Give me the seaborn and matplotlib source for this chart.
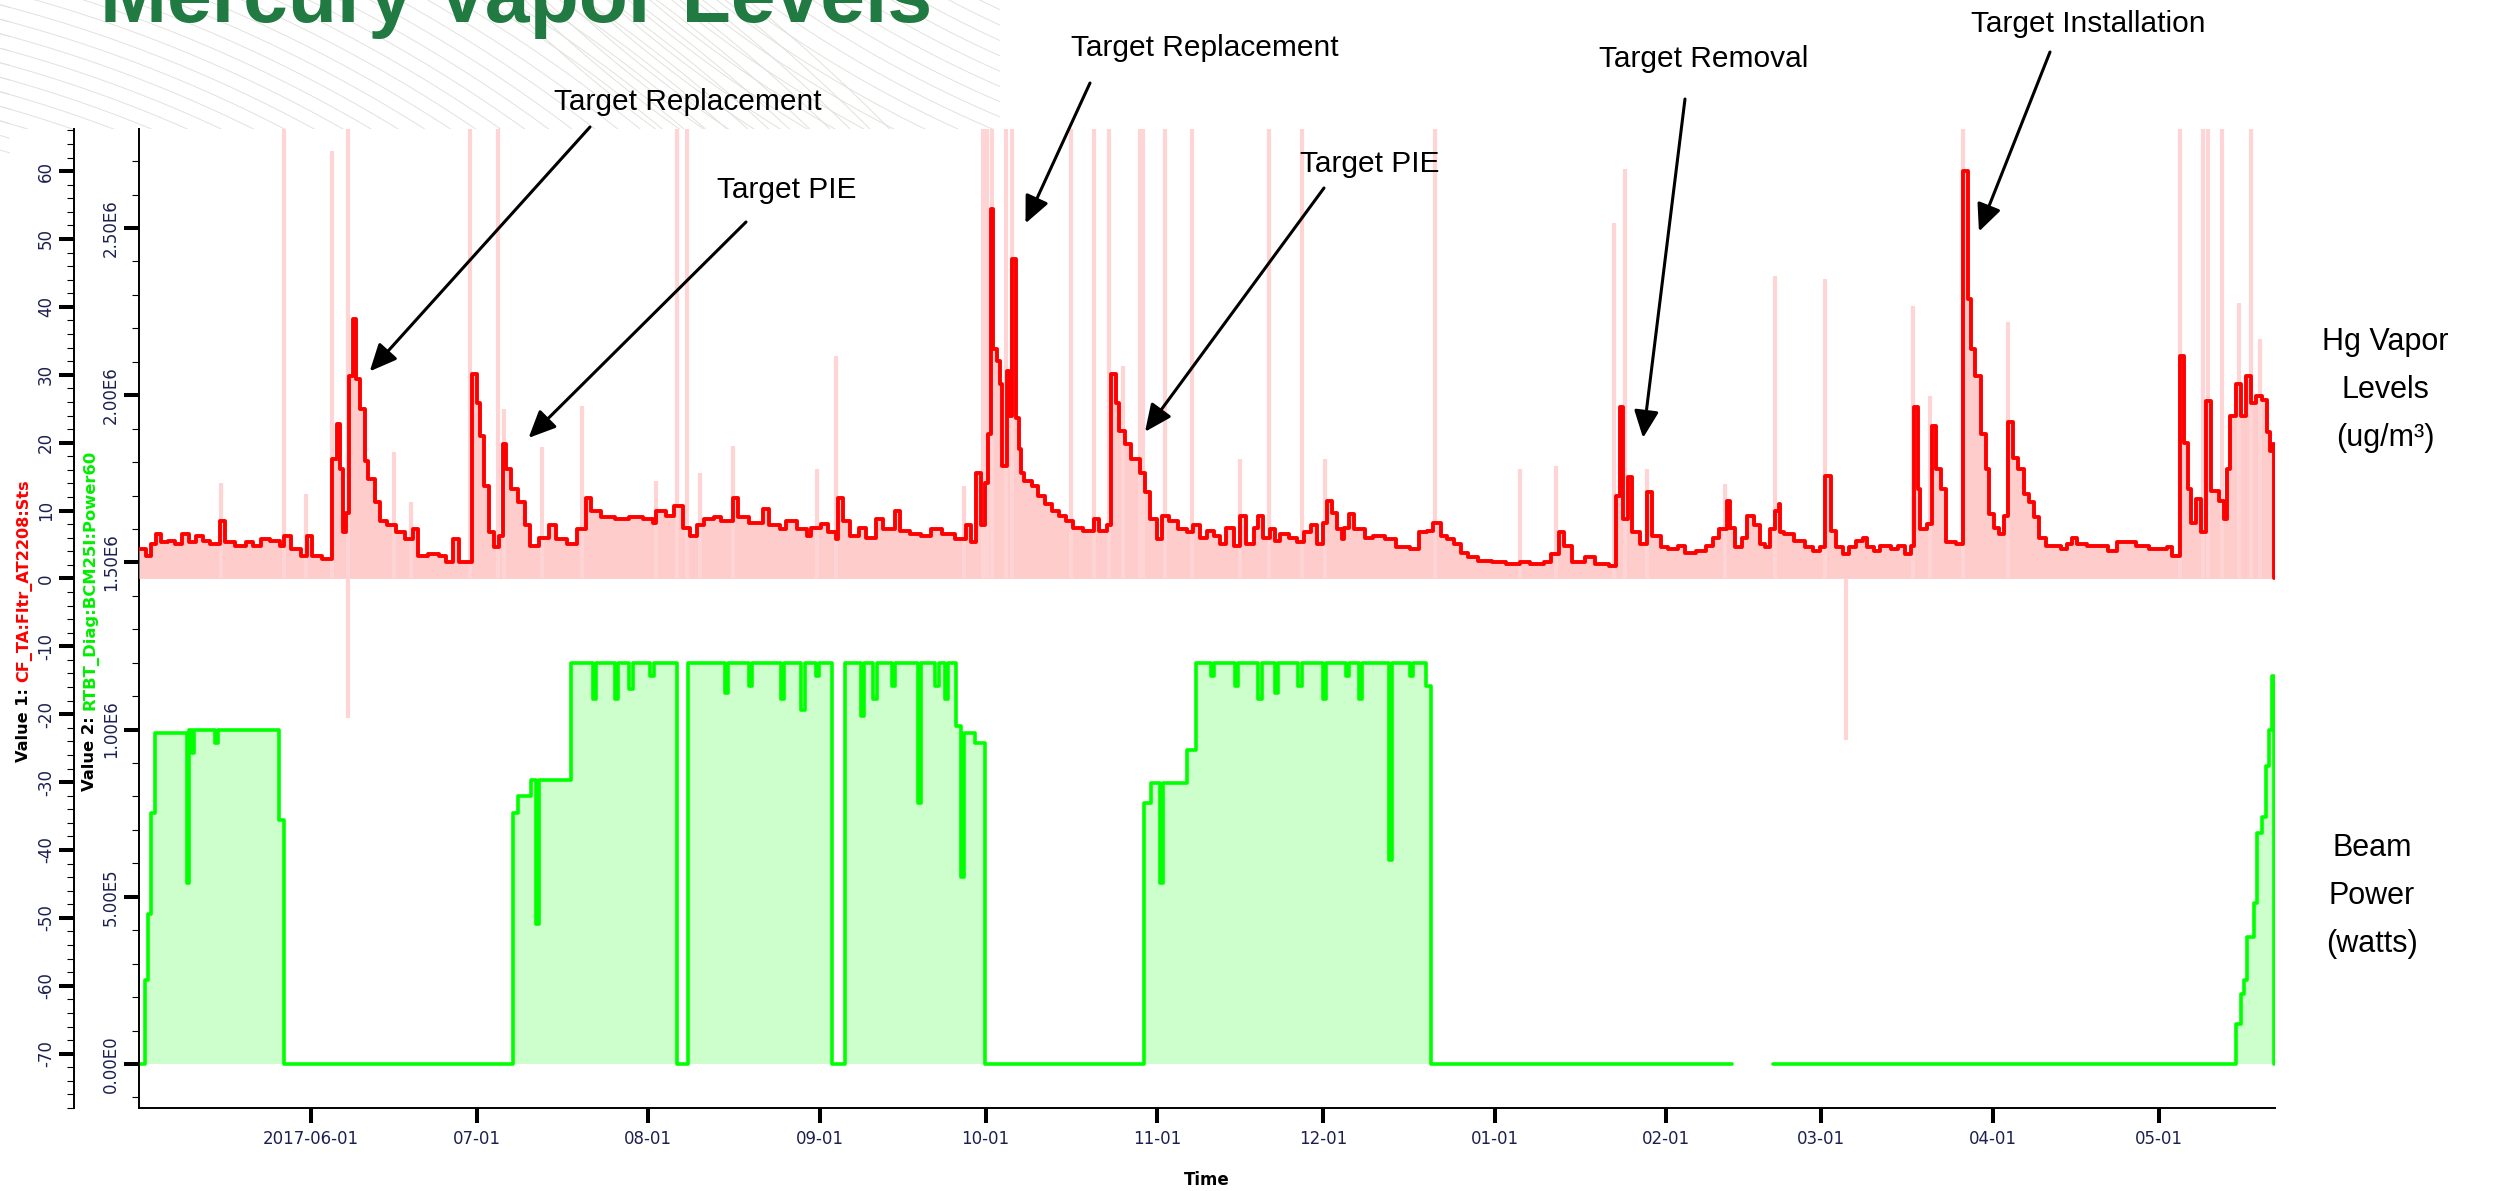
import numpy as np
import pandas as pd
import matplotlib
matplotlib.use("Agg")
from matplotlib import pyplot as plt
import matplotlib.dates as mdates
from matplotlib.ticker import MultipleLocator, FuncFormatter, FixedLocator
from matplotlib.patches import Rectangle
import seaborn as sns

# --- data (days after 2017-05-01) ---
start_date = "2017-05-01"
end_day = 386.0

# Hg vapor (Value 1, outer axis), step values
red_day = [0, 1.2, 2.2, 3.1, 4.0, 5.3, 6.5, 7.8, 9.0, 10.3, 11.5, 12.8, 14.6, 15.6, 17.4, 19.3, 20.6,
           22.1, 23.7, 25.5, 26.2, 27.4, 29.3, 30.4, 31.2, 33.0, 34.9, 35.8, 36.4, 36.8, 37.4, 38.0,
           38.6, 39.3, 39.9, 40.8, 41.4, 42.7, 43.6, 44.9, 46.4, 48.0, 49.5, 50.5, 52.3, 54.2, 55.5,
           56.8, 57.9, 60.1, 61.1, 61.7, 62.3, 63.2, 64.2, 65.1, 65.7, 66.4, 67.3, 68.5, 69.8, 70.7,
           72.3, 74.1, 75.4, 77.3, 79.1, 80.7, 81.6, 83.5, 86.0, 88.5, 91.0, 92.8, 93.5, 95.3, 96.6,
           98.3, 99.6, 100.8, 102.1, 103.9, 105.2, 107.4, 108.3, 110.2, 112.7, 113.9, 115.8, 117.0,
           118.9, 120.8, 121.4, 123.2, 124.5, 126.0, 126.4, 127.3, 128.5, 130.1, 131.3, 133.2, 134.5,
           136.6, 137.6, 139.4, 141.3, 143.2, 145.1, 147.5, 149.4, 150.3, 151.3, 152.2, 152.8, 153.5,
           154.0, 154.4, 155.0, 155.6, 156.0, 156.9, 157.2, 157.8, 158.4, 159.1, 159.4, 160.0, 161.3,
           162.5, 163.7, 165.0, 166.2, 167.5, 168.7, 170.6, 172.5, 173.4, 175.0, 175.6, 176.5, 177.1,
           178.1, 179.3, 180.9, 181.8, 182.7, 184.0, 184.9, 186.2, 187.7, 189.3, 190.5, 191.8, 193.0,
           194.3, 195.3, 196.5, 197.8, 199.0, 200.0, 201.5, 202.2, 203.1, 204.3, 205.3, 206.2, 207.8,
           209.3, 210.6, 211.8, 212.8, 214.0, 214.7, 215.5, 216.5, 217.4, 217.7, 218.7, 219.6, 221.5,
           223.0, 225.2, 227.1, 229.6, 231.4, 232.7, 233.9, 235.2, 236.4, 237.7, 238.9, 240.2, 242.0,
           244.5, 247.0, 249.5, 251.4, 253.9, 255.1, 256.7, 257.6, 258.9, 261.3, 263.2, 265.7, 266.9,
           267.6, 268.2, 269.1, 269.8, 271.3, 272.6, 273.5, 275.1, 276.3, 278.2, 279.4, 281.3, 283.2,
           284.4, 285.6, 286.9, 287.5, 288.4, 289.7, 290.6, 291.9, 292.9, 293.8, 294.8, 295.7, 296.3,
           296.6, 297.3, 299.1, 301.0, 302.6, 303.8, 304.7, 305.7, 306.6, 307.9, 309.1, 310.3, 311.6,
           312.2, 313.5, 314.7, 316.6, 317.8, 319.1, 320.3, 320.8, 321.4, 321.9, 323.1, 324.1, 324.8,
           325.6, 326.5, 328.4, 329.6, 330.6, 331.0, 331.8, 332.8, 333.7, 334.3, 335.3, 336.2, 337.1,
           337.8, 338.7, 339.6, 340.6, 341.5, 342.4, 343.4, 344.6, 347.4, 348.4, 349.3, 350.2, 352.1,
           355.8, 357.4, 360.8, 363.3, 366.4, 367.4, 368.9, 369.5, 370.2, 370.8, 371.7, 372.7, 373.6,
           374.5, 375.8, 376.7, 377.3, 377.9, 378.9, 379.8, 380.8, 381.7, 382.6, 383.6, 384.5, 385.1,
           385.7, 385.9]
red_val = [4.3, 3.3, 5.1, 6.5, 5.3, 5.5, 5.1, 6.5, 5.3, 6.3, 5.5, 5.1, 8.5, 5.3, 4.8, 5.3, 4.8,
           5.8, 5.5, 4.8, 6.3, 4.3, 3.3, 6.3, 3.3, 2.8, 17.6, 22.7, 16.1, 6.8, 9.7, 29.8,
           38.2, 29.4, 24.9, 17.3, 14.6, 11.2, 8.5, 7.8, 6.8, 5.8, 7.3, 3.3, 3.6, 3.3, 2.4,
           5.8, 2.4, 30.1, 25.9, 21.0, 13.6, 6.8, 4.6, 6.3, 19.8, 16.1, 13.2, 11.2, 7.8, 4.8,
           6.0, 7.8, 5.8, 5.1, 7.3, 11.9, 10.0, 9.0, 8.7, 9.0, 8.7, 8.2, 10.0, 9.2, 10.7,
           7.5, 6.3, 7.8, 8.7, 9.0, 8.5, 11.9, 9.0, 8.2, 10.2, 7.8, 7.3, 8.5,
           7.3, 6.3, 7.5, 8.0, 6.8, 5.8, 11.9, 8.5, 6.3, 7.5, 6.0, 8.7, 7.3,
           10.0, 7.0, 6.5, 6.3, 7.3, 6.5, 5.8, 7.8, 5.3, 15.6, 7.8, 14.1, 21.3,
           54.4, 33.8, 32.1, 28.6, 16.6, 30.6, 24.0, 47.0, 23.7, 19.0, 15.6, 14.4, 13.6,
           12.2, 10.9, 10.0, 9.2, 8.5, 7.5, 7.0, 8.7, 7.0, 7.8, 30.1, 25.9, 21.7,
           19.8, 17.6, 15.6, 12.7, 8.7, 5.8, 9.2, 8.5, 7.3, 6.8, 7.8, 6.0, 7.0,
           6.3, 5.1, 7.5, 4.8, 9.2, 5.1, 7.5, 9.2, 6.0, 7.3, 5.5, 6.5, 6.0,
           5.3, 6.8, 7.8, 5.1, 8.2, 11.4, 9.7, 7.3, 5.8, 7.5, 9.5, 7.3, 6.0,
           6.3, 5.8, 4.6, 4.3, 6.8, 7.0, 8.2, 6.3, 5.8, 5.1, 3.8, 3.1, 2.6,
           2.4, 2.1, 2.4, 2.1, 2.4, 3.6, 6.8, 4.8, 2.4, 3.1, 2.1, 1.9, 12.2,
           25.2, 8.7, 14.9, 6.8, 5.1, 12.7, 6.3, 4.6, 4.3, 4.8, 3.8, 4.1, 4.8,
           6.0, 7.3, 11.4, 7.5, 4.6, 6.0, 9.2, 7.8, 5.1, 4.6, 7.3, 10.0, 10.9,
           6.8, 6.5, 5.5, 4.6, 4.1, 4.6, 15.1, 7.0, 4.6, 3.6, 4.6, 5.5, 6.0,
           4.6, 4.1, 4.8, 4.3, 4.8, 3.6, 4.8, 25.2, 13.2, 7.3, 8.0, 22.5, 16.1,
           13.2, 5.3, 5.1, 60.0, 41.1, 33.8, 29.8, 21.3, 16.1, 9.5, 7.5, 6.5, 9.2,
           23.0, 17.8, 16.1, 12.4, 11.2, 9.0, 6.0, 4.8, 4.3, 5.1, 6.0, 5.1, 4.8,
           4.1, 5.3, 4.8, 4.3, 4.6, 3.3, 32.8, 20.0, 13.2, 8.2, 11.7, 6.8, 26.2,
           12.9, 11.4, 8.7, 16.1, 24.0, 28.6, 24.0, 29.8, 25.9, 26.8, 26.3, 21.5, 18.8,
           19.8, 0.0]

# short max-value excursions of the Hg reading (pale spikes); 70 = off scale
spike_day = [14.8, 26.2, 30.2, 34.9, 37.8, 46.1, 49.2, 59.8, 64.8, 66.0, 72.9, 80.1, 93.5, 97.2,
             99.1, 101.4, 107.4, 122.6, 126.0, 149.1, 152.5, 153.2, 154.1, 156.6, 157.8, 168.4,
             172.5, 175.3, 177.8, 180.9, 181.5, 185.5, 190.2, 199.0, 204.2, 210.1, 214.3, 234.2,
             249.5, 256.0, 266.6, 268.5, 272.6, 286.6, 295.7, 304.6, 320.6, 323.7, 329.7, 337.8,
             368.8, 373.0, 373.9, 376.4, 379.5, 381.7, 383.2]
spike_top = [14.1, 70, 12.4, 63.0, 70, 18.6, 11.2, 70, 70, 24.9, 19.3, 25.4, 14.4, 70,
             70, 15.6, 19.5, 16.1, 32.8, 13.6, 70, 70, 70, 70, 70, 70,
             70, 70, 31.3, 70, 70, 70, 70, 17.6, 70, 70, 17.6, 70,
             16.1, 16.6, 52.4, 60.3, 16.1, 13.9, 44.6, 44.1, 40.2, 26.9, 70, 37.7,
             70, 70, 70, 70, 40.6, 70, 35.2]
dip_day = [37.8, 308.5]
dip_low = [-20.5, -23.8]

# beam power (Value 2, inner axis) in MW, two runs of data around a logging gap
green_day_a = [0, 1.0, 1.6, 2.2, 2.9, 8.6, 9.0, 9.5, 10.0, 13.8, 14.3, 25.3, 26.2, 67.6, 68.5, 70.8,
               71.7, 72.2, 78.0, 82.0, 82.6, 86.0, 86.6, 88.6, 89.2, 92.4, 93.0, 97.3, 99.3, 105.9,
               106.5, 110.2, 110.8, 116.0, 116.6, 119.7, 120.3, 122.3, 122.9, 125.2, 127.5, 130.4,
               131.0, 132.7, 133.3, 136.1, 136.7, 140.7, 141.3, 143.9, 144.5, 145.6, 146.2, 147.6,
               148.5, 149.1, 151.1, 152.8, 181.6, 182.8, 184.5, 185.0, 189.3, 191.1, 193.7, 194.3,
               198.0, 198.6, 202.3, 202.9, 205.2, 205.8, 209.5, 210.1, 213.9, 214.5, 218.1, 218.7,
               220.4, 221.0, 225.9, 226.5, 229.6, 230.2, 232.5, 233.4, 287.8]
green_val_a = [0, 0.25, 0.45, 0.75, 0.99, 0.54, 1.0, 0.93, 1.0, 0.96, 1.0, 0.73, 0, 0.75, 0.80, 0.85,
               0.42, 0.85, 1.2, 1.09, 1.2, 1.09, 1.2, 1.12, 1.2, 1.16, 1.2, 0, 1.2, 1.11,
               1.2, 1.13, 1.2, 1.09, 1.2, 1.06, 1.2, 1.16, 1.2, 0, 1.2, 1.04,
               1.2, 1.09, 1.2, 1.13, 1.2, 0.78, 1.2, 1.13, 1.2, 1.09, 1.2, 1.01,
               0.56, 0.99, 0.96, 0, 0.78, 0.84, 0.54, 0.84, 0.94, 1.2, 1.16, 1.2,
               1.13, 1.2, 1.09, 1.2, 1.11, 1.2, 1.13, 1.2, 1.09, 1.2, 1.16, 1.2,
               1.09, 1.2, 0.61, 1.2, 1.16, 1.2, 1.13, 0, 0]
green_day_b = [295.3, 378.9, 379.8, 380.4, 381.0, 382.2, 382.8, 383.7, 384.3, 384.9, 385.5, 385.9]
green_val_b = [0, 0.12, 0.21, 0.25, 0.38, 0.48, 0.69, 0.74, 0.89, 1.0, 1.16, 0]

month_ticks = ["2017-06-01", "2017-07-01", "2017-08-01", "2017-09-01", "2017-10-01", "2017-11-01",
               "2017-12-01", "2018-01-01", "2018-02-01", "2018-03-01", "2018-04-01", "2018-05-01"]
month_labels = ["2017-06-01", "07-01", "08-01", "09-01", "10-01", "11-01",
                "12-01", "01-01", "02-01", "03-01", "04-01", "05-01"]

# annotations: text, text centre (px from top-left), arrow start (px), arrow tip (day, Hg value)
notes = [
    ("Target Replacement", (688, 102), (590, 127), (41.7, 30.5)),
    ("Target PIE", (787, 190), (746, 222), (70.4, 20.7)),
    ("Target Replacement", (1205, 48), (1090, 83), (160.2, 52.3)),
    ("Target PIE", (1370, 164), (1324, 188), (181.8, 21.6)),
    ("Target Removal", (1704, 59), (1685, 99), (271.8, 20.7)),
    ("Target Installation", (2088, 24), (2050, 52), (332.5, 51.1)),
]

# --- figure ---
W, H = 2498, 1191
sns.set_theme(style="white")
plt.rcParams["font.family"] = ["Liberation Sans", "DejaVu Sans"]
plt.rcParams["axes.unicode_minus"] = False
navy = "#1c2050"
tick_font = "DejaVu Sans"

t0 = pd.Timestamp(start_date)


def to_dates(days):
    return t0 + pd.to_timedelta(np.asarray(days, dtype=float), unit="D")


fig = plt.figure(figsize=(W / 100, H / 100), dpi=100)
fig.patch.set_facecolor("white")

# faint slide background pattern in the top-left corner
bg = fig.add_axes([0, 0, 1, 1])
bg.set_xlim(0, W)
bg.set_ylim(H, 0)
bg.axis("off")
clip = Rectangle((0, 0), 1000, 129, transform=bg.transData)
clip_left = Rectangle((0, 0), 10, 640, transform=bg.transData)
tt = np.linspace(0, 2 * np.pi, 900)
for r in np.arange(1250, 1750, 14):
    for cp in (clip, clip_left):
        ln, = bg.plot(-350 + r * np.cos(tt), 1350 + r * np.sin(tt), color="#e2e2dc", lw=0.7)
        ln.set_clip_path(cp)
for r in np.arange(850, 1350, 14):
    ln, = bg.plot(1450 + r * np.cos(tt), -950 + r * np.sin(tt), color="#e2e2dc", lw=0.7)
    ln.set_clip_path(clip)

L, R, T, B = 139, 2275, 129, 1108
ax = fig.add_axes([L / W, 1 - B / H, (R - L) / W, (B - T) / H])
ax.set_facecolor("white")

# green: beam power
gdf = pd.DataFrame({
    "date": list(to_dates(green_day_a)) + list(to_dates(green_day_b)),
    "mw": green_val_a + green_val_b,
    "seg": [0] * len(green_day_a) + [1] * len(green_day_b),
})
for seg, part in gdf.groupby("seg"):
    ax.fill_between(part["date"], 0, part["mw"], step="post", color="#ccffcc", lw=0)
sns.lineplot(data=gdf, x="date", y="mw", units="seg", estimator=None, sort=False,
             drawstyle="steps-post", color="#00ff00", lw=2.6, ax=ax)

ax.set_xlim(to_dates([0])[0], to_dates([end_day])[0])
ax.set_ylim(-0.1316, 2.796)

# red: Hg vapor on a second axis, drawn outside on the left
ax2 = ax.twinx()
rdf = pd.DataFrame({"date": to_dates(red_day), "hg": red_val})
ax2.vlines(to_dates(spike_day), 0, spike_top, color="#ffd4d4", lw=3)
ax2.vlines(to_dates(dip_day), dip_low, 0, color="#ffd4d4", lw=3)
ax2.fill_between(rdf["date"], 0, rdf["hg"], step="post", color="#ffcccc", lw=0)
sns.lineplot(data=rdf, x="date", y="hg", estimator=None, sort=False,
             drawstyle="steps-post", color="#ff0000", lw=2.8, ax=ax2)
ax2.set_ylim(-78.0, 66.2)
ax2.set_xlim(to_dates([0])[0], to_dates([end_day])[0])

for a in (ax, ax2):
    a.set_xlabel("")
    a.set_ylabel("")
    for s in ("top", "right"):
        a.spines[s].set_visible(False)
ax2.spines["bottom"].set_visible(False)
ax2.spines["left"].set_visible(True)
ax2.spines["left"].set_position(("outward", 65 * 0.72))
for a in (ax, ax2):
    a.spines["left"].set_color("black")
    a.spines["left"].set_linewidth(1.4)
ax.spines["bottom"].set_color("black")
ax.spines["bottom"].set_linewidth(1.4)

ax2.yaxis.tick_left()
ax2.yaxis.set_label_position("left")


def sci(v, pos):
    if abs(v) < 1e-9:
        return "0.00E0"
    m, e = f"{v * 1e6:.2E}".split("E")
    return f"{m}E{int(e)}"


ax.yaxis.set_major_locator(MultipleLocator(0.5))
ax.yaxis.set_minor_locator(MultipleLocator(0.1))
ax.yaxis.set_major_formatter(FuncFormatter(sci))
ax2.yaxis.set_major_locator(MultipleLocator(10))
ax2.yaxis.set_minor_locator(MultipleLocator(2))
ax2.yaxis.set_major_formatter(FuncFormatter(lambda v, p: f"{v:.0f}"))

for a in (ax, ax2):
    a.tick_params(axis="y", which="major", left=True, right=False, labelleft=True, labelright=False,
                  length=10.8, width=2.9, color="black", direction="out", labelsize=12,
                  labelcolor=navy, labelrotation=90, pad=3)
    a.tick_params(axis="y", which="minor", left=True, right=False, length=5, width=0.8,
                  color="black", direction="out")
    for lab in a.get_yticklabels():
        lab.set_family(tick_font)
        lab.set_va("center")

ax.xaxis.set_major_locator(FixedLocator(mdates.date2num(pd.to_datetime(month_ticks))))
ax.set_xticklabels(month_labels)
ax.tick_params(axis="x", which="major", bottom=True, length=10.8, width=2.9, color="black",
               direction="out", labelsize=12, labelcolor=navy, pad=5)
for lab in ax.get_xticklabels():
    lab.set_family(tick_font)
ax2.tick_params(axis="x", which="both", bottom=False, top=False, labelbottom=False)

fig.text(1207 / W, 1 - 1180 / H, "Time", fontsize=12, fontweight="bold", family=tick_font,
         ha="center", va="center", color="black")

# two-coloured rotated axis titles
renderer = fig.canvas.get_renderer()


def two_tone(x_px, bottom_px, head, tail, tail_color, size):
    t1 = fig.text(x_px / W, 1 - bottom_px / H, head, rotation=90, ha="center", va="bottom",
                  fontsize=size, fontweight="bold", family=tick_font, color="black")
    h = t1.get_window_extent(renderer=renderer).height
    fig.text(x_px / W, 1 - (bottom_px - h) / H, tail, rotation=90, ha="center", va="bottom",
             fontsize=size, fontweight="bold", family=tick_font, color=tail_color)


two_tone(24, 762, "Value 1: ", "CF_TA:Fltr_AT2208:Sts", "#ff0000", 11.6)
two_tone(90, 791, "Value 2: ", "RTBT_Diag:BCM25I:Power60", "#00ee00", 11.8)

# title and side labels
fig.text(100 / W, 1 - 22 / H, "Mercury Vapor Levels", fontsize=58, fontweight="bold",
         color="#207a42", ha="left", va="baseline")
fig.text(2385 / W, 1 - 390 / H, "Hg Vapor\nLevels\n(ug/m³)", fontsize=22, ha="center",
         va="center", linespacing=1.8, color="black")
fig.text(2372 / W, 1 - 896 / H, "Beam\nPower\n(watts)", fontsize=22, ha="center",
         va="center", linespacing=1.8, color="black")

for text, (tx, ty), (sx, sy), (dday, dval) in notes:
    fig.text(tx / W, 1 - ty / H, text, fontsize=21.5, ha="center", va="center", color="black")
    ax2.annotate("", xy=(mdates.date2num(to_dates([dday])[0]), dval), xycoords="data",
                 xytext=(sx, H - sy), textcoords="figure pixels", annotation_clip=False,
                 arrowprops=dict(arrowstyle="-|>,head_length=0.55,head_width=0.25",
                                 mutation_scale=30, color="black", lw=2.2,
                                 shrinkA=0, shrinkB=0))

fig.savefig("out.png", dpi=100)
